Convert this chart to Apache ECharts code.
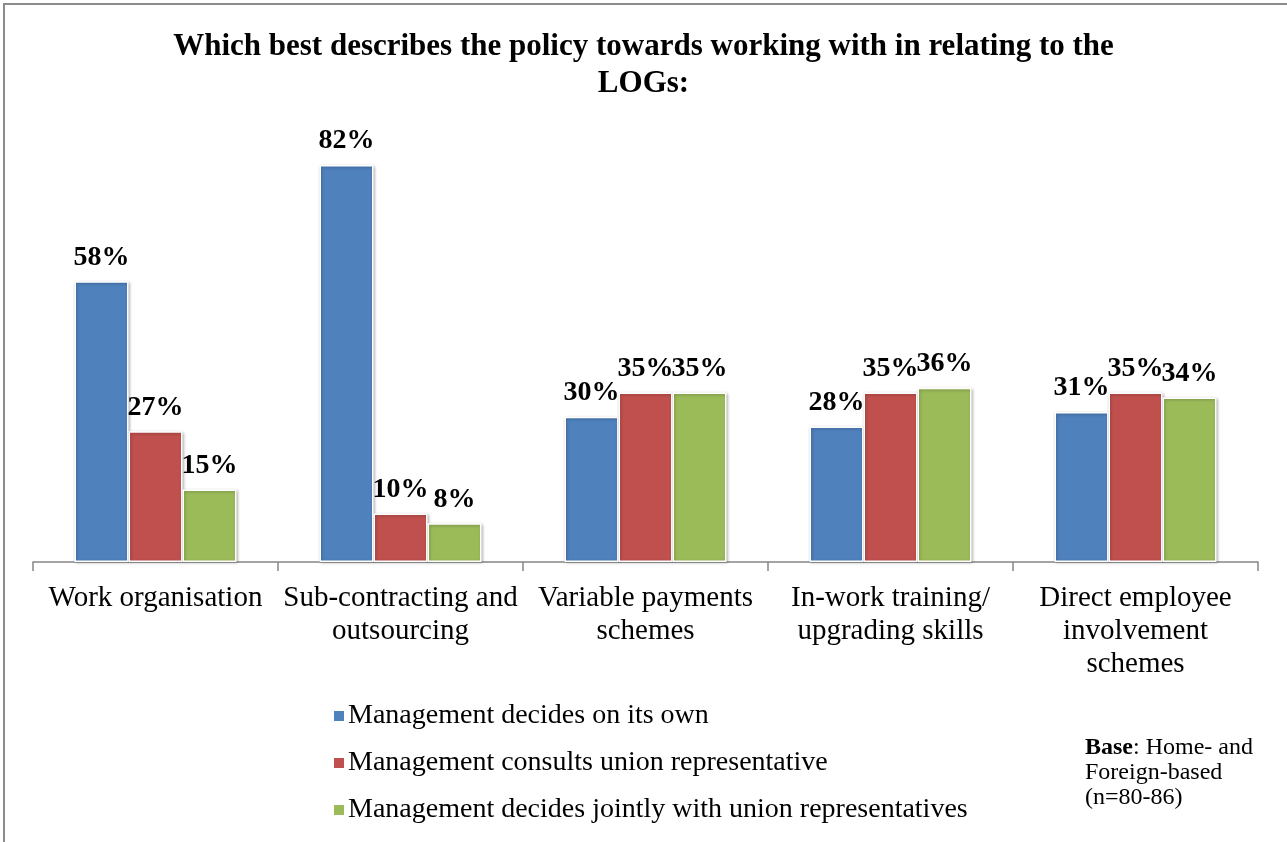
<!DOCTYPE html>
<html>
<head>
<meta charset="utf-8">
<script src="https://cdn.jsdelivr.net/npm/echarts@6/dist/echarts.min.js"></script>
<style>
  html, body { margin: 0; padding: 0; background: #fff; }
  #chart { width: 1287px; height: 842px; }
</style>
</head>
<body>
<div id="chart"></div>
<script>
// Categories (x axis) and the three response series, in percent
const categories = [
  'Work organisation',
  'Sub-contracting and\noutsourcing',
  'Variable payments\nschemes',
  'In-work training/\nupgrading skills',
  'Direct employee\ninvolvement\nschemes'
];
const seriesNames = [
  'Management decides on its own',
  'Management consults union representative',
  'Management decides jointly with union representatives'
];
const decidesOwn = [58, 82, 30, 28, 31];
const consultsUnion = [27, 10, 35, 35, 35];
const decidesJointly = [15, 8, 35, 36, 34];

const colors = ['#4f81bd', '#c0504d', '#9bbb59'];
const serif = '"Liberation Serif", "DejaVu Serif", serif';

const chart = echarts.init(document.getElementById('chart'), null, { renderer: 'canvas' });

function barSeries(name, data, color) {
  return {
    name: name,
    type: 'bar',
    data: data,
    barWidth: 54,
    barGap: '0%',
    itemStyle: {
      color: color,
      borderColor: '#ffffff',
      borderWidth: 1.5,
      shadowColor: 'rgba(0,0,0,0.28)',
      shadowBlur: 3,
      shadowOffsetX: 1,
      shadowOffsetY: 1
    },
    label: {
      show: true,
      position: 'top',
      distance: 10,
      formatter: '{c}%',
      fontFamily: serif,
      fontWeight: 'bold',
      fontSize: 28,
      color: '#000'
    }
  };
}

chart.setOption({
  animation: false,
  backgroundColor: '#fff',
  title: {
    text: 'Which best describes the policy towards working with in relating to the\nLOGs:',
    left: 'center',
    top: 23,
    textStyle: {
      fontFamily: serif,
      fontWeight: 'bold',
      fontSize: 31,
      lineHeight: 37,
      color: '#000'
    }
  },
  grid: { left: 33, right: 29, top: 78, bottom: 280, containLabel: false },
  xAxis: {
    type: 'category',
    data: categories,
    axisLine: { lineStyle: { color: '#868686', width: 1.5 } },
    axisTick: { show: true, interval: 0, length: 9, lineStyle: { color: '#868686', width: 1.5 } },
    axisLabel: {
      interval: 0,
      margin: 20,
      fontFamily: serif,
      fontSize: 29,
      lineHeight: 33,
      color: '#000'
    }
  },
  yAxis: {
    type: 'value',
    min: 0,
    max: 100,
    show: false,
    splitLine: { show: false }
  },
  legend: {
    orient: 'vertical',
    left: 327,
    top: 697,
    itemWidth: 12,
    itemHeight: 12,
    itemGap: 19,
    icon: 'rect',
    data: seriesNames,
    textStyle: {
      fontFamily: serif,
      fontSize: 28,
      lineHeight: 28,
      color: '#000',
      padding: [0, 0, 0, -2]
    }
  },
  graphic: [
    {
      type: 'rect',
      shape: { x: 4, y: 4, width: 1400, height: 1000 },
      style: { fill: 'none', stroke: '#8c8c8c', lineWidth: 2 },
      silent: true
    },
    {
      type: 'text',
      left: 1085,
      top: 735,
      style: {
        text: '{b|Base}: Home- and\nForeign-based\n(n=80-86)',
        fontFamily: serif,
        fontSize: 24,
        lineHeight: 25,
        fill: '#000',
        rich: {
          b: { fontFamily: serif, fontWeight: 'bold', fontSize: 24, lineHeight: 25, fill: '#000' }
        }
      }
    }
  ],
  series: [
    barSeries(seriesNames[0], decidesOwn, colors[0]),
    barSeries(seriesNames[1], consultsUnion, colors[1]),
    barSeries(seriesNames[2], decidesJointly, colors[2])
  ]
});
</script>
</body>
</html>
